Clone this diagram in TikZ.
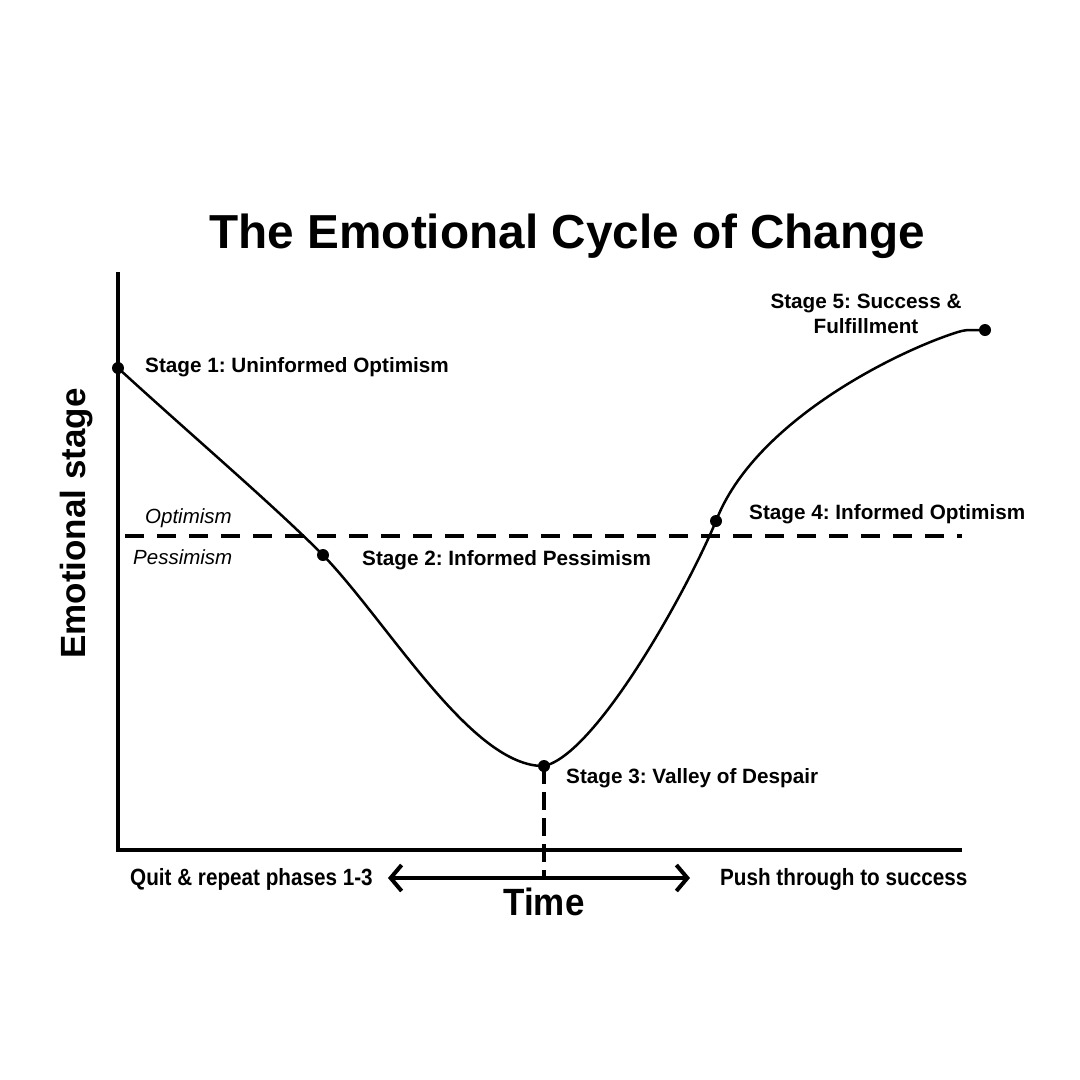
\documentclass[tikz,border=0pt]{standalone}
\usepackage{fontspec}
\setmainfont{Liberation Sans}
\newfontfamily\narrowfont{Liberation Sans}[FakeStretch=0.88]
\newfontfamily\timefont{Liberation Sans}[FakeStretch=0.92]
\usetikzlibrary{arrows.meta}
\frenchspacing
\begin{document}
\begin{tikzpicture}[x=1pt,y=-1pt,
  lbl/.style={inner sep=0pt,font=\fontsize{20.7}{25}\selectfont\bfseries},
  zone/.style={inner sep=0pt,font=\fontsize{20.5}{25}\selectfont\itshape},
  bottomlbl/.style={inner sep=0pt,font=\narrowfont\fontsize{23.5}{28}\selectfont\bfseries},
  axisline/.style={line width=4pt},
  curveline/.style={line width=2.5pt,line cap=round,line join=round},
  dot/.style={circle,fill=black,inner sep=0pt,minimum size=12pt},
  divider/.style={line width=4pt,dash pattern=on 19pt off 13pt},
  dropline/.style={line width=4pt,dash pattern=on 18pt off 8pt},
  timearrow/.style={line width=4pt,{Straight Barb[length=11pt,width=26pt,line width=4pt]}-{Straight Barb[length=11pt,width=26pt,line width=4pt]}}
]
\useasboundingbox[fill=white] (0,0) rectangle (1080,1080);

% title
\node[inner sep=0pt,anchor=base,font=\fontsize{47.7}{55}\selectfont\bfseries] (title) at (567.5,248) {The Emotional Cycle of Change};

% axes
\coordinate (ytop) at (118,272);
\coordinate (origin) at (118,850);
\coordinate (xend) at (962,850);
\draw[axisline,line join=miter] (ytop) -- (origin) -- (xend);

% y axis label
\node[inner sep=0pt,anchor=base,rotate=90,font=\fontsize{35}{40}\selectfont\bfseries] (ylabel) at (85,523.5) {Emotional stage};

% optimism / pessimism divider
\coordinate (divL) at (125,536);
\coordinate (divR) at (962,536);
\draw[divider] (divL) -- (divR);
\node[zone,anchor=base west] (opt) at (145,523) {Optimism};
\node[zone,anchor=base west] (pes) at (133,564) {Pessimism};

% stage points
\coordinate (s1) at (118,368);
\coordinate (s2) at (323,555);
\coordinate (s3) at (544,766);
\coordinate (s4) at (716,521);
\coordinate (s5) at (985,330);
\coordinate (top) at (958,332);
\coordinate (flat) at (975,330);

% curve
\draw[curveline] (s1) .. controls (190,434) and (270,502) .. (s2)
  .. controls (390,625) and (472,767) .. (s3)
  .. controls (595,755) and (685,595) .. (s4)
  .. controls (755,420) and (900,350) .. (top)
  .. controls (964,330) and (968,330) .. (flat) -- (s5);

% dots
\node[dot] (d1) at (s1) {};
\node[dot] (d2) at (s2) {};
\node[dot] (d3) at (s3) {};
\node[dot] (d4) at (s4) {};
\node[dot] (d5) at (s5) {};

% stage labels
\node[lbl,anchor=base west] (l1) at (145,372) {Stage 1: Uninformed Optimism};
\node[lbl,anchor=base west] (l2) at (362,565) {Stage 2: Informed Pessimism};
\node[lbl,anchor=base west] (l3) at (566,783) {Stage 3: Valley of Despair};
\node[lbl,anchor=base west] (l4) at (749,519) {Stage 4: Informed Optimism};
\node[lbl,anchor=north,align=center] (l5) at (866,294) {Stage 5: Success \&\\Fulfillment};

% time arrow and drop line
\coordinate (tL) at (388,878);
\coordinate (tR) at (690,878);
\coordinate (tM) at (544,878);
\draw[dropline] (s3) -- (tM);
\draw[timearrow] (tL) -- (tR);

\node[bottomlbl,anchor=base west] (quit) at (130,885) {Quit \& repeat phases 1-3};
\node[bottomlbl,anchor=base west] (push) at (720,885) {Push through to success};
\node[inner sep=0pt,anchor=base,font=\timefont\fontsize{38}{42}\selectfont\bfseries] (time) at (544,915) {Time};
\end{tikzpicture}
\end{document}
